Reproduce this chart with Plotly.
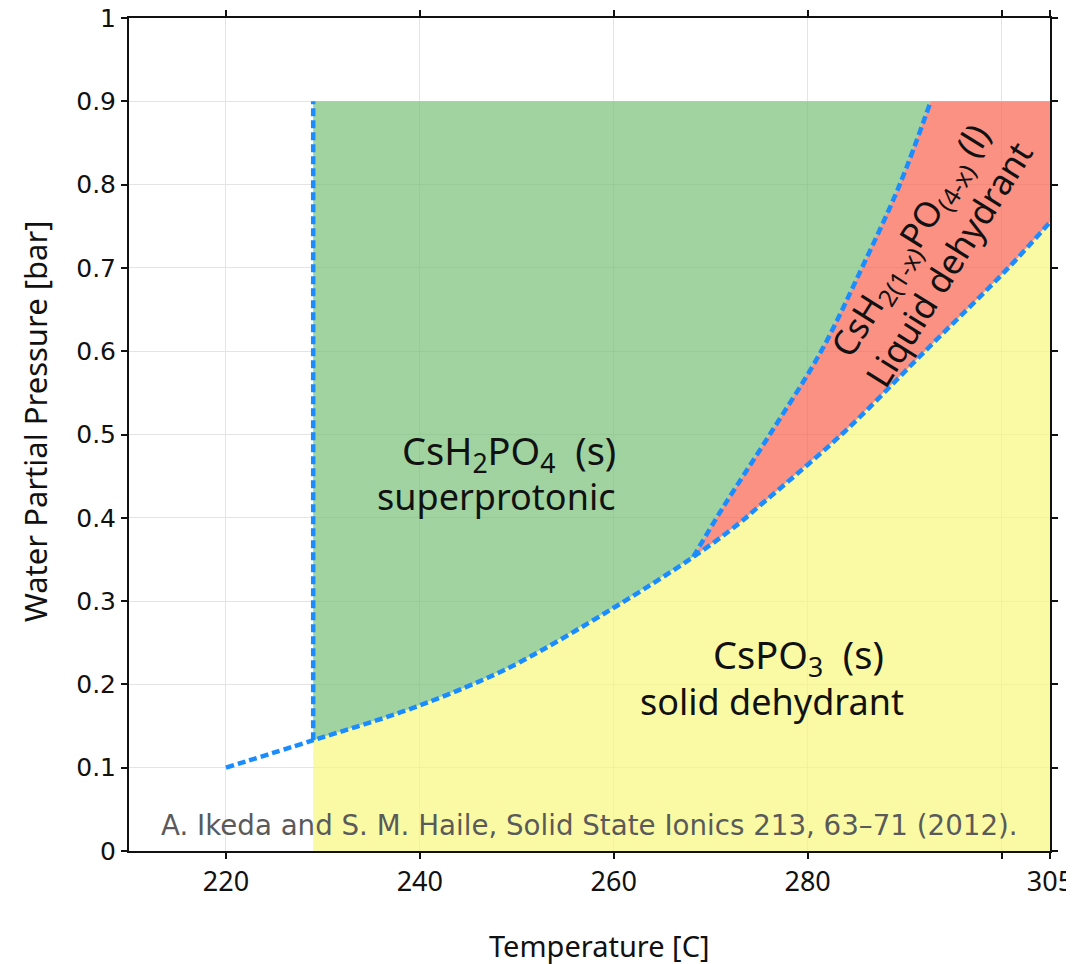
import plotly.graph_objects as go

# ---- data ----
# lower boundary (CsH2PO4 / CsPO3 and liquid / CsPO3)
lower_T = [220, 229, 237.9, 244.8, 250.2, 260, 268.2, 272.9, 274.9, 283.5, 292.1, 300.7, 305]
lower_P = [0.100, 0.133, 0.166, 0.197, 0.226, 0.292, 0.353, 0.393, 0.413, 0.500, 0.600, 0.700, 0.755]
triple_index = 6  # (268.2, 0.353)

# green / red boundary (liquidus)
liq_T = [268.2, 271.3, 276.1, 281.4, 285.6, 289.5, 292.7]
liq_P = [0.353, 0.413, 0.500, 0.600, 0.700, 0.800, 0.900]

# vertical phase transition line
vert_T = [229, 229]
vert_P = [0.133, 0.900]

P_top = 0.9
T_max = 305

x_tickvals = [220, 240, 260, 280, 300, 305]
x_ticktext = ["220", "240", "260", "280", "", "305"]
y_tickvals = [0, 0.1, 0.2, 0.3, 0.4, 0.5, 0.6, 0.7, 0.8, 0.9, 1]
y_ticktext = ["0", "0.1", "0.2", "0.3", "0.4", "0.5", "0.6", "0.7", "0.8", "0.9", "1"]

GREEN = "rgba(119,192,119,0.7)"
RED = "rgba(249,99,78,0.7)"
YELLOW = "rgba(248,248,127,0.7)"
BLUE = "#1a8cff"
INK = "#111111"

fig = go.Figure()

# yellow region: below the lower boundary
yx = lower_T[1:] + [T_max, lower_T[1]]
yy = lower_P[1:] + [0, 0]
fig.add_trace(go.Scatter(x=yx, y=yy, fill="toself", fillcolor=YELLOW,
                         line=dict(width=0), mode="lines", hoverinfo="skip"))

# green region
gx = [vert_T[1]] + lower_T[1:triple_index + 1] + liq_T[1:]
gy = [vert_P[1]] + lower_P[1:triple_index + 1] + liq_P[1:]
fig.add_trace(go.Scatter(x=gx, y=gy, fill="toself", fillcolor=GREEN,
                         line=dict(width=0), mode="lines", hoverinfo="skip"))

# red region
rx = liq_T + [T_max] + lower_T[triple_index:][::-1]
ry = liq_P + [P_top] + lower_P[triple_index:][::-1]
fig.add_trace(go.Scatter(x=rx, y=ry, fill="toself", fillcolor=RED,
                         line=dict(width=0), mode="lines", hoverinfo="skip"))

dash_line = dict(color=BLUE, width=4.5, dash="8px,4px", shape="spline", smoothing=1)
fig.add_trace(go.Scatter(x=lower_T, y=lower_P, mode="lines", line=dash_line))
fig.add_trace(go.Scatter(x=liq_T, y=liq_P, mode="lines", line=dash_line))
fig.add_trace(go.Scatter(x=vert_T, y=vert_P, mode="lines",
                         line=dict(color=BLUE, width=4.5, dash="8px,4px")))

big_font = dict(family="Noto Sans", size=38, color=INK)
word_font = dict(family="Noto Sans", size=36, color=INK)
fig.add_annotation(x=249.2, y=0.478, text="CsH<sub>2</sub>PO<sub>4</sub>&nbsp; (s)",
                   showarrow=False, font=big_font, xanchor="center", yanchor="middle")
fig.add_annotation(x=247.9, y=0.425, text="superprotonic",
                   showarrow=False, font=word_font, xanchor="center", yanchor="middle")
fig.add_annotation(x=279.05, y=0.233, text="CsPO<sub>3</sub>&nbsp; (s)",
                   showarrow=False, font=big_font, xanchor="center", yanchor="middle")
fig.add_annotation(x=276.3, y=0.179, text="solid dehydrant",
                   showarrow=False, font=word_font, xanchor="center", yanchor="middle")
fig.add_annotation(x=292.5, y=0.719,
                   text="CsH<sub>2(1-x)</sub>PO<sub>(4-x)</sub> (l)<br>Liquid dehydrant",
                   showarrow=False, font=dict(family="Noto Sans", size=35, color=INK),
                   textangle=-58, xanchor="center", yanchor="middle")
fig.add_annotation(x=257.5, y=0.031,
                   text="A. Ikeda and S. M. Haile, Solid State Ionics 213, 63\u201371 (2012).",
                   showarrow=False, font=dict(family="DejaVu Sans", size=27.7, color="#5a5a5a"),
                   xanchor="center", yanchor="middle")

# axis titles (placed as paper-anchored text to match the reference offsets)
fig.add_annotation(xref="paper", yref="paper", x=0.5114, y=0, yshift=-94,
                   text="Temperature [C]", showarrow=False,
                   font=dict(family="Noto Sans", size=29, color=INK),
                   xanchor="center", yanchor="middle")
fig.add_annotation(xref="paper", yref="paper", x=0, xshift=-94, y=0.515,
                   text="Water Partial Pressure [bar]", showarrow=False, textangle=-90,
                   font=dict(family="Noto Sans", size=31, color=INK),
                   xanchor="center", yanchor="middle")

# the page body adds an 8px margin, so the figure is 8px smaller than the window
fig.update_layout(
    width=1066, height=956,
    margin=dict(l=121, r=24, t=10, b=113),
    paper_bgcolor="white", plot_bgcolor="white",
    showlegend=False,
)
fig.update_xaxes(
    range=[210, 305], tickvals=x_tickvals, ticktext=x_ticktext,
    showgrid=True, gridcolor="#e4e4e4", gridwidth=1,
    showline=True, linecolor=INK, linewidth=2, mirror="ticks",
    ticks="outside", ticklen=6, tickwidth=1.5, tickcolor=INK,
    tickfont=dict(family="Noto Sans", size=27, color=INK),
    ticklabeloverflow="allow",
    zeroline=False, automargin=False,
)
fig.update_yaxes(
    range=[0, 1], tickvals=y_tickvals, ticktext=y_ticktext,
    showgrid=True, gridcolor="#e4e4e4", gridwidth=1,
    showline=True, linecolor=INK, linewidth=2, mirror="ticks",
    ticks="outside", ticklen=6, tickwidth=1.5, tickcolor=INK,
    tickfont=dict(family="DejaVu Sans", size=25, color=INK),
    ticklabeloverflow="allow",
    zeroline=False, automargin=False,
)

fig.write_html("out.html")
